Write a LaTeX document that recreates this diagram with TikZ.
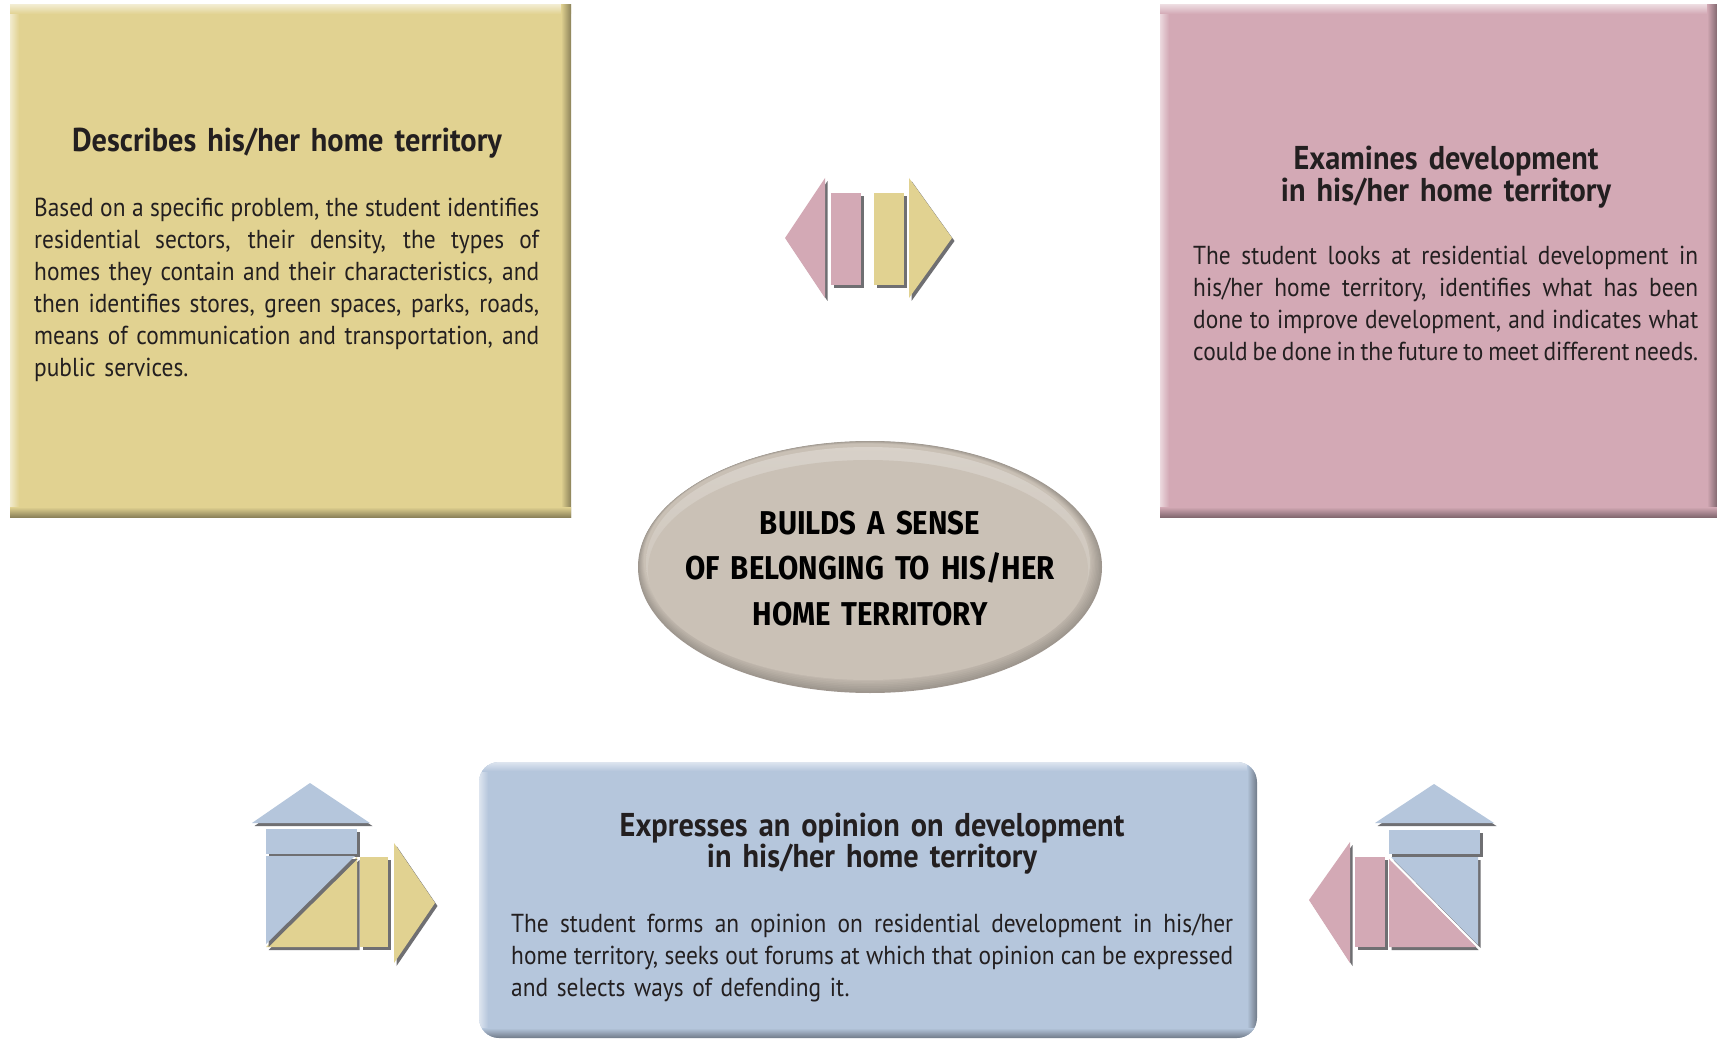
\documentclass[tikz,border=0pt]{standalone}
\usepackage{fontspec}
\setmainfont{PT Sans}[FakeStretch=0.9]
\newfontfamily\headfont{PT Sans}[FakeStretch=0.92]
\newfontfamily\ctrfont{Fira Sans}[FakeStretch=0.89]
\definecolor{ylw}{HTML}{E1D291}
\definecolor{pnk}{HTML}{D3A9B5}
\definecolor{blu}{HTML}{B5C6DC}
\definecolor{elp}{HTML}{CAC1B6}
\definecolor{txt}{HTML}{231F20}
\definecolor{shd}{HTML}{6F6F72}
\newcommand\jl[2]{\makebox[#1pt][s]{\spaceskip=0.24em plus 1em minus 0.12em\xspaceskip=\spaceskip #2}}
\newcommand\bevel[5]{%
  \fill[#5] (#1,#2) rectangle (#3,#4);
  \shade[left color=#5!45!white, right color=#5] (#1,#2) rectangle ({#1+9},#4);
  \shade[top color=#5!45!white, bottom color=#5] (#1,#2) rectangle (#3,{#2+9});
  \shade[left color=#5, right color=#5!62!black] ({#3-10},#2) rectangle (#3,#4);
  \shade[top color=#5, bottom color=#5!62!black] (#1,{#4-10}) rectangle (#3,#4);
}
\newcommand\piece[2]{% colour, path
  \fill[shd, xshift=2.5pt, yshift=-3pt] #2;
  \fill[#1] #2;
}
\tikzset{
  bodytxt/.style={inner sep=0pt, anchor=base west, align=left, text=txt,
    font=\fontsize{26}{32}\selectfont},
  headtxt/.style={inner sep=0pt, anchor=base, align=center, text=txt, text width=640pt,
    font=\headfont\bfseries\fontsize{33}{31.5}\selectfont},
  ctrtxt/.style={inner sep=0pt, anchor=base, align=center, text=black, text width=460pt,
    font=\ctrfont\bfseries\fontsize{33}{45.5}\selectfont},
}
\begin{document}
\begin{tikzpicture}[x=1pt,y=-1pt]
\useasboundingbox (0,0) rectangle (1717,1040);
\fill[white] (0,0) rectangle (1717,1040);

% ---- boxes
\bevel{10}{5}{571}{517}{ylw}
\bevel{1160}{5}{1717}{517}{pnk}
\begin{scope}
  \clip[rounded corners=20pt] (479,762) rectangle (1257,1038);
  \bevel{479}{762}{1257}{1038}{blu}
\end{scope}

% ---- centre ellipse
\foreach \i in {0,...,9}{
  \pgfmathsetmacro\pc{78+\i*2.4}
  \fill[elp!\pc!black] ({870-\i*0.35},{567-\i*0.7}) ellipse [x radius={232-\i}, y radius={126-\i}];
}
\shade[top color=elp!55!white, bottom color=elp, opacity=0.6]
  (868,563) ellipse [x radius=222, y radius=116];
\fill[elp] (868,570) ellipse [x radius=220, y radius=110];

% ---- texts
\node[headtxt] (deschead) at (287,152) {Describes his/her home territory};
\node[bodytxt, text width=505pt] (descbody) at (34,217) {%
\jl{505}{Based on a specific problem, the student identifies}\\
\jl{505}{residential sectors, their density, the types of}\\
\jl{505}{homes they contain and their characteristics, and}\\
\jl{505}{then identifies stores, green spaces, parks, roads,}\\
\jl{505}{means of communication and transportation, and}\\
public services.};

\node[headtxt] (exhead) at (1446,170) {Examines development\\in his/her home territory};
\node[bodytxt, text width=505pt] (exbody) at (1193,265) {%
\jl{505}{The student looks at residential development in}\\
\jl{505}{his/her home territory, identifies what has been}\\
\jl{505}{done to improve development, and indicates what}\\
\jl{505}{could be done in the future to meet different needs.}};

\node[headtxt] (ophead) at (872,836) {Expresses an opinion on development\\in his/her home territory};
\node[bodytxt, text width=722pt] (opbody) at (511,932) {%
\jl{722}{The student forms an opinion on residential development in his/her}\\
\jl{722}{home territory, seeks out forums at which that opinion can be expressed}\\
and selects ways of defending it.};

\node[ctrtxt] (core) at (870,534) {BUILDS A SENSE\\OF BELONGING TO HIS/HER\\HOME TERRITORY};

% ---- top double arrow icon
\piece{pnk}{(825,178) -- (785,238) -- (825,298) -- cycle}
\piece{pnk}{(831,193) rectangle (861,285)}
\piece{ylw}{(874,193) rectangle (904,285)}
\piece{ylw}{(909,178) -- (952,238) -- (909,298) -- cycle}

% ---- left house icon
\piece{blu}{(252,823) -- (310,783) -- (370,823) -- cycle}
\piece{blu}{(266,829) rectangle (357,854)}
\piece{ylw}{(266,947) -- (357,857) -- (357,947) -- cycle}
\piece{blu}{(266,856) -- (355,856) -- (266,944) -- cycle}
\piece{ylw}{(360,857) rectangle (388,947)}
\piece{ylw}{(394,843) -- (435,903) -- (394,963) -- cycle}

% ---- right house icon
\piece{pnk}{(1350,842) -- (1309,900) -- (1350,963) -- cycle}
\piece{pnk}{(1355,857) rectangle (1385,947)}
\piece{blu}{(1391,857) -- (1478,857) -- (1478,945) -- cycle}
\piece{pnk}{(1389,859) -- (1476,947) -- (1389,947) -- cycle}
\piece{blu}{(1389,830) rectangle (1480,854)}
\piece{blu}{(1375,823) -- (1434,784) -- (1494,823) -- cycle}
\end{tikzpicture}
\end{document}
